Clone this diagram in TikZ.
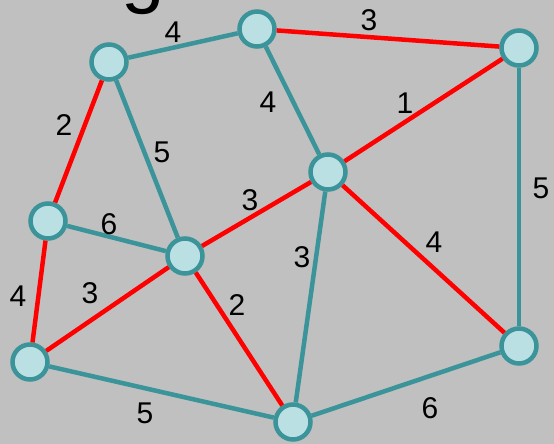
\documentclass[tikz,border=0pt]{standalone}
\usepackage{fontspec}
\setmainfont{Liberation Sans}
\definecolor{bgc}{RGB}{192,192,192}
\definecolor{teal}{RGB}{58,148,153}
\definecolor{nfill}{RGB}{186,224,227}
\definecolor{redc}{RGB}{255,0,0}
\tikzset{
  vtx/.style={circle, draw=teal, line width=4.5pt, fill=nfill, minimum size=35pt, inner sep=0pt},
  tedge/.style={draw=teal, line width=4.5pt},
  redge/.style={draw=redc, line width=4.5pt},
  lbl/.style={font=\fontsize{30}{30}\selectfont, text=black, inner sep=0pt}
}
\begin{document}
\begin{tikzpicture}[x=1pt,y=-1pt]
\useasboundingbox[fill=bgc] (0,0) rectangle (554,444);
\node[anchor=base west, inner sep=0pt, font=\fontsize{78}{78}\selectfont] (title) at (52,-1) {Algorithm};
% vertices
\node[vtx] (A) at (109,62) {};
\node[vtx] (B) at (257,29) {};
\node[vtx] (C) at (519,48) {};
\node[vtx] (D) at (48,221) {};
\node[vtx] (E) at (185,256) {};
\node[vtx] (F) at (328,172) {};
\node[vtx] (G) at (30,362) {};
\node[vtx] (H) at (293,422) {};
\node[vtx] (I) at (519,346) {};
% edges
\draw[tedge] (A) -- (B);
\draw[redge] (B) -- (C);
\draw[redge] (A) -- (D);
\draw[tedge] (A) -- (E);
\draw[tedge] (B) -- (F);
\draw[redge] (F) -- (C);
\draw[tedge] (C) -- (I);
\draw[tedge] (D) -- (E);
\draw[redge] (E) -- (F);
\draw[redge] (D) -- (G);
\draw[redge] (G) -- (E);
\draw[redge] (E) -- (H);
\draw[tedge] (F) -- (H);
\draw[redge] (F) -- (I);
\draw[tedge] (G) -- (H);
\draw[tedge] (H) -- (I);
% labels
\node[lbl] (lAB) at (173,32) {4};
\node[lbl] (lBC) at (369,20) {3};
\node[lbl] (lAD) at (64,125) {2};
\node[lbl] (lAE) at (162,152) {5};
\node[lbl] (lBF) at (268,102) {4};
\node[lbl] (lFC) at (405,103) {1};
\node[lbl] (lCI) at (541,188) {5};
\node[lbl] (lDE) at (109,224) {6};
\node[lbl] (lEF) at (250,200) {3};
\node[lbl] (lDG) at (18,296) {4};
\node[lbl] (lGE) at (90,293) {3};
\node[lbl] (lEH) at (237,305) {2};
\node[lbl] (lFH) at (302,257) {3};
\node[lbl] (lFI) at (434,242) {4};
\node[lbl] (lGH) at (145,413) {5};
\node[lbl] (lHI) at (430,408) {6};
\end{tikzpicture}
\end{document}
